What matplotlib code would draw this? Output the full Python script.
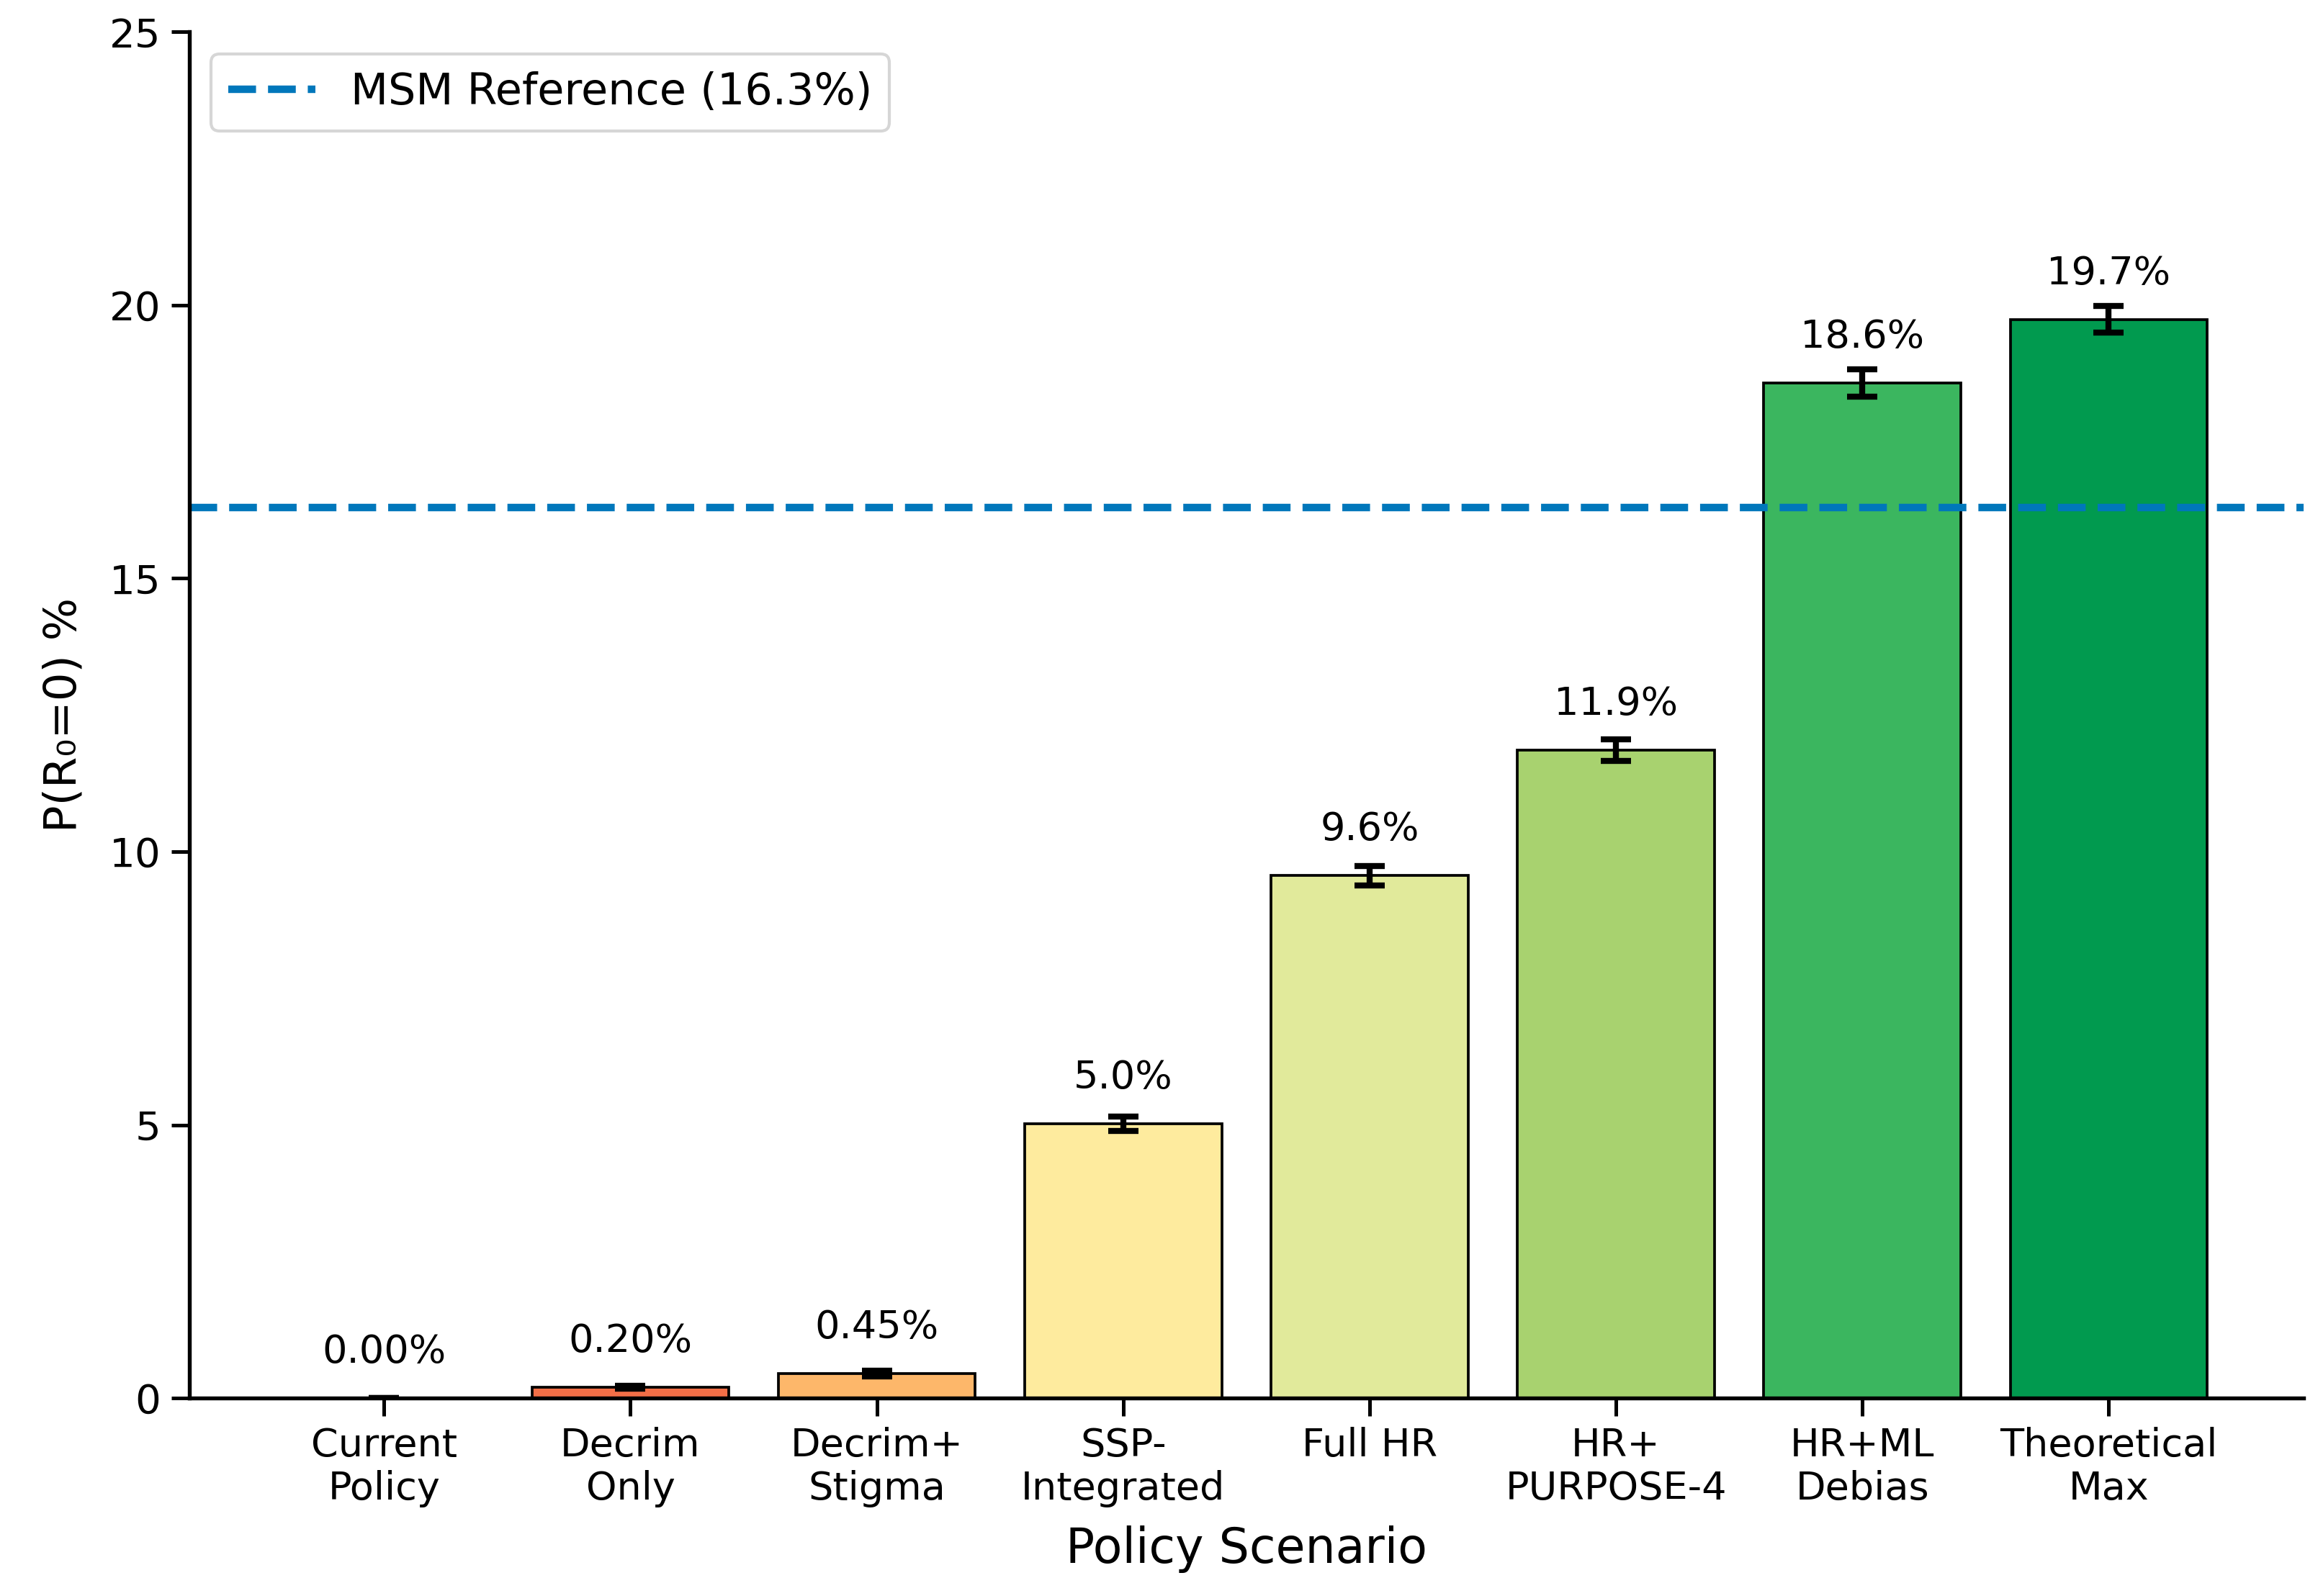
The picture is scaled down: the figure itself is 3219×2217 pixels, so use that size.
import matplotlib
matplotlib.use("Agg")
import matplotlib.pyplot as plt
import numpy as np

categories = ["Current\nPolicy", "Decrim\nOnly", "Decrim+\nStigma", "SSP-\nIntegrated",
              "Full HR", "HR+\nPURPOSE-4", "HR+ML\nDebias", "Theoretical\nMax"]
values = [0.00, 0.20, 0.45, 5.02, 9.56, 11.86, 18.57, 19.74]
errors = [0.00, 0.03, 0.05, 0.13, 0.18, 0.20, 0.25, 0.24]
labels = ["0.00%", "0.20%", "0.45%", "5.0%", "9.6%", "11.9%", "18.6%", "19.7%"]
colors = ["#d73027", "#f36f47", "#fdb76a", "#feeb9e", "#e1ea9b", "#a8d26f", "#3bb65f", "#019a4f"]
msm_ref = 16.3

plt.rcParams['font.family'] = ['DejaVu Sans']
fig = plt.figure(figsize=(3219/300, 2217/300), dpi=300)
ax = fig.add_axes([0.0817, 0.124, 0.912, 0.856])

x = np.arange(len(categories))
ax.bar(x, values, width=0.8, color=colors, edgecolor='black', linewidth=0.9,
       yerr=errors, capsize=5, error_kw=dict(elinewidth=2, capthick=2, ecolor='black'))
ax.axhline(msm_ref, color='#0077BB', linestyle='--', linewidth=2.5,
           label=f'MSM Reference ({msm_ref}%)')

for xi, v, lab in zip(x, values, labels):
    ax.text(xi, v + 0.5, lab, ha='center', va='bottom', fontsize=13)

ax.set_ylim(0, 25)
ax.set_xticks(x)
ax.set_xticklabels(categories, fontsize=13)
ax.tick_params(axis='y', labelsize=13.5)
ax.tick_params(axis='both', width=1.2, length=6)
ax.set_xlabel("Policy Scenario", fontsize=16, labelpad=6)
ax.set_ylabel("P(R\u2080=0) %", fontsize=15, labelpad=8)
for s in ['top', 'right']:
    ax.spines[s].set_visible(False)
for s in ['left', 'bottom']:
    ax.spines[s].set_linewidth(1.3)
ax.legend(loc='upper left', fontsize=14.5)

fig.savefig("out.png", dpi=300)
